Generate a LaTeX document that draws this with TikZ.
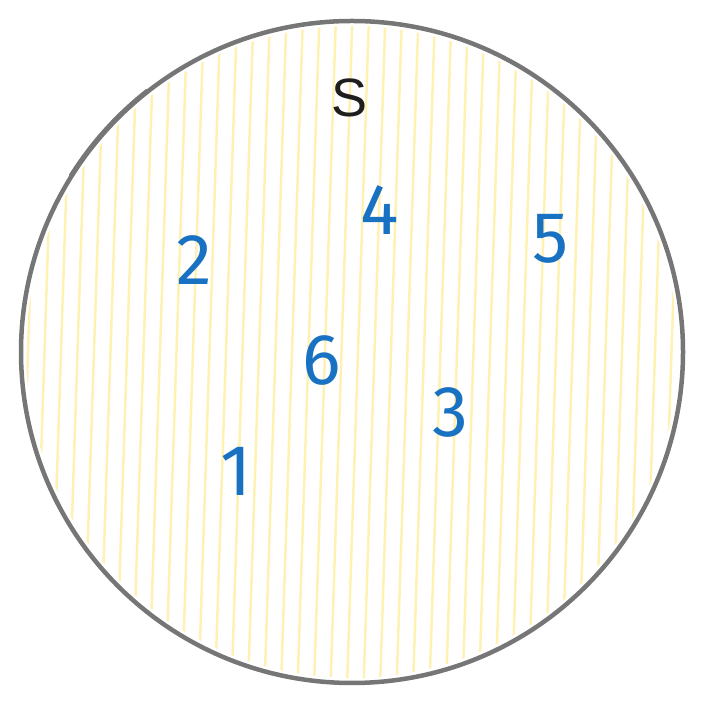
\documentclass[tikz,border=0pt]{standalone}
\usepackage{fontspec}
\setmainfont{Liberation Sans}
\newfontfamily\digitfont{Fira Sans}
\definecolor{rim}{HTML}{767676}
\definecolor{hatch}{HTML}{FFF0B4}
\definecolor{ink}{HTML}{1E1E1E}
\definecolor{num}{HTML}{1971C2}
\tikzset{
  setlabel/.style={text=ink,font=\fontsize{54}{54}\selectfont,inner sep=0pt},
  elem/.style={text=num,font=\digitfont\fontsize{72}{72}\selectfont,inner sep=0pt}
}
\begin{document}
\begin{tikzpicture}[x=1pt,y=1pt]
\useasboundingbox (0,0) rectangle (703,703);
\coordinate (c) at (352,351);
\begin{scope}
\clip (c) circle (326);
\foreach \i in {0,...,42}
\draw[hatch,line width=2.5pt] (16.5*\i,0) -- (16.5*\i+23,703);
\end{scope}
\draw[rim,line width=4.5pt] (c) circle (331);
\draw[rim,line width=2pt] (c) ++(128:333) arc (128:148:333);
\node[setlabel] (S) at (350,605) {S};
%
\foreach \name/\px/\py in {1/236/232,2/194/443,3/450/291,4/380/493,5/551/464,6/322/343}
\node[elem] (e\name) at (\px,\py) {\name};
\end{tikzpicture}
\end{document}
